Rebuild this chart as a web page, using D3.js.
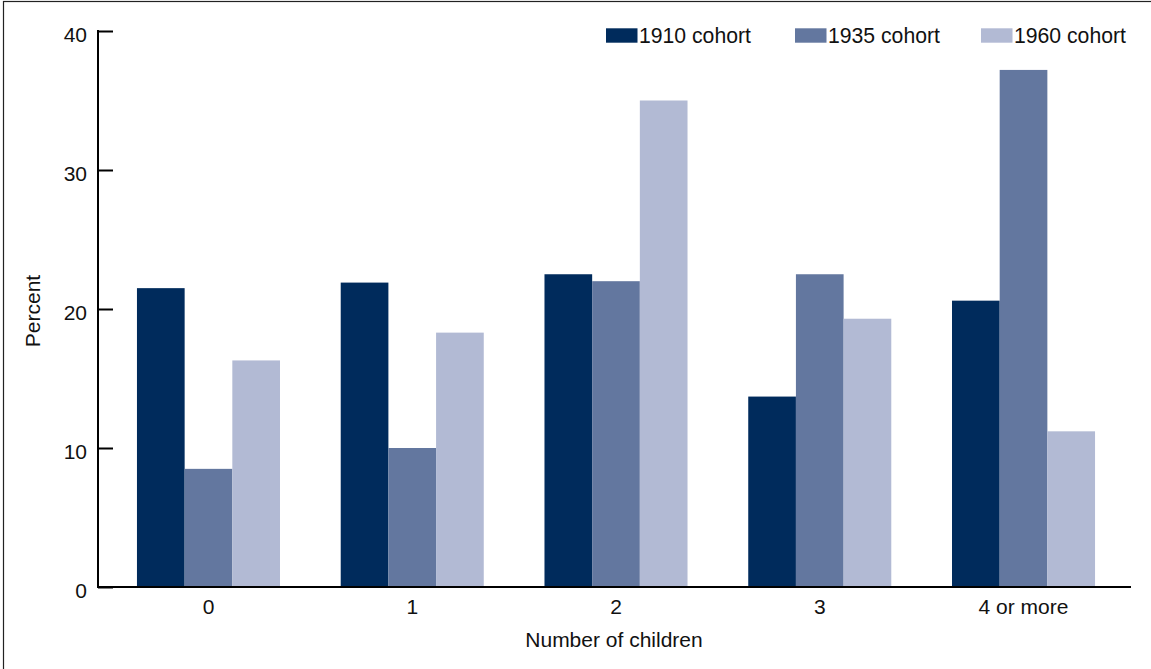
<!DOCTYPE html>
<html><head><meta charset="utf-8">
<script src="https://cdn.jsdelivr.net/npm/d3@7"></script>
<style>body{margin:0;background:#fff}svg{display:block;font-family:"Liberation Sans",Arial,sans-serif}</style>
</head><body>
<svg id="c" width="1151" height="669"></svg>
<script>
const categories = ["0","1","2","3","4 or more"];
const seriesNames = ["1910 cohort","1935 cohort","1960 cohort"];
const cohort1910 = [21.5, 21.9, 22.5, 13.7, 20.6];
const cohort1935 = [8.5, 10.0, 22.0, 22.5, 37.2];
const cohort1960 = [16.3, 18.3, 35.0, 19.3, 11.2];
const yTicks = [0,10,20,30,40];
const colors = ["#002b5c","#63779f","#b2bad4"];
const series = [cohort1910, cohort1935, cohort1960];

const svg = d3.select("#c");
svg.append("rect").attr("x",3.5).attr("y",1.5).attr("width",1160).attr("height",680)
  .attr("fill","none").attr("stroke","#222").attr("stroke-width",1.2);

const x0 = d3.scaleBand().domain(categories).range([106.6,1125.4]).paddingInner(0.298).paddingOuter(0.149);
const x1 = d3.scaleBand().domain(seriesNames).range([0,x0.bandwidth()]);
const y = d3.scaleLinear().domain([0,40]).range([587,31]);

const g = svg.append("g");
categories.forEach((c,i)=>{
  series.forEach((s,j)=>{
    g.append("rect").attr("x",x0(c)+x1(seriesNames[j])).attr("width",x1.bandwidth())
      .attr("y",y(s[i])).attr("height",y(0)-y(s[i])).attr("fill",colors[j]);
  });
});

// y axis
const ya = svg.append("g").attr("transform","translate(98,0)")
  .call(d3.axisRight(y).tickValues(yTicks).tickSize(15).tickFormat(""));
ya.select(".domain").remove();
ya.selectAll("line").attr("stroke","#000").attr("stroke-width",2);
svg.append("line").attr("x1",98).attr("x2",98).attr("y1",30).attr("y2",588).attr("stroke","#000").attr("stroke-width",2);
svg.selectAll(".ylab").data(yTicks).enter().append("text")
  .attr("x",87).attr("y",d=>y(d)+10.5).attr("text-anchor","end").attr("font-size",21).attr("fill","#111").text(d=>d);

// x axis
svg.append("line").attr("x1",97).attr("x2",1131).attr("y1",587).attr("y2",587).attr("stroke","#000").attr("stroke-width",2);
svg.selectAll(".xlab").data(categories).enter().append("text")
  .attr("x",d=>x0(d)+x0.bandwidth()/2).attr("y",614).attr("text-anchor","middle").attr("font-size",21).attr("fill","#111").text(d=>d);

svg.append("text").attr("x",614).attr("y",647).attr("text-anchor","middle").attr("font-size",21).attr("fill","#111").text("Number of children");
svg.append("text").attr("transform","translate(40,311) rotate(-90)").attr("text-anchor","middle").attr("font-size",21).attr("fill","#111").text("Percent");

// legend
const legX = [606,795,981];
seriesNames.forEach((n,j)=>{
  svg.append("rect").attr("x",legX[j]).attr("y",28.3).attr("width",31.5).attr("height",14.4).attr("fill",colors[j]);
  svg.append("text").attr("x",legX[j]+33).attr("y",42.5).attr("font-size",21.2).attr("fill","#111").text(n);
});
</script>
</body></html>
